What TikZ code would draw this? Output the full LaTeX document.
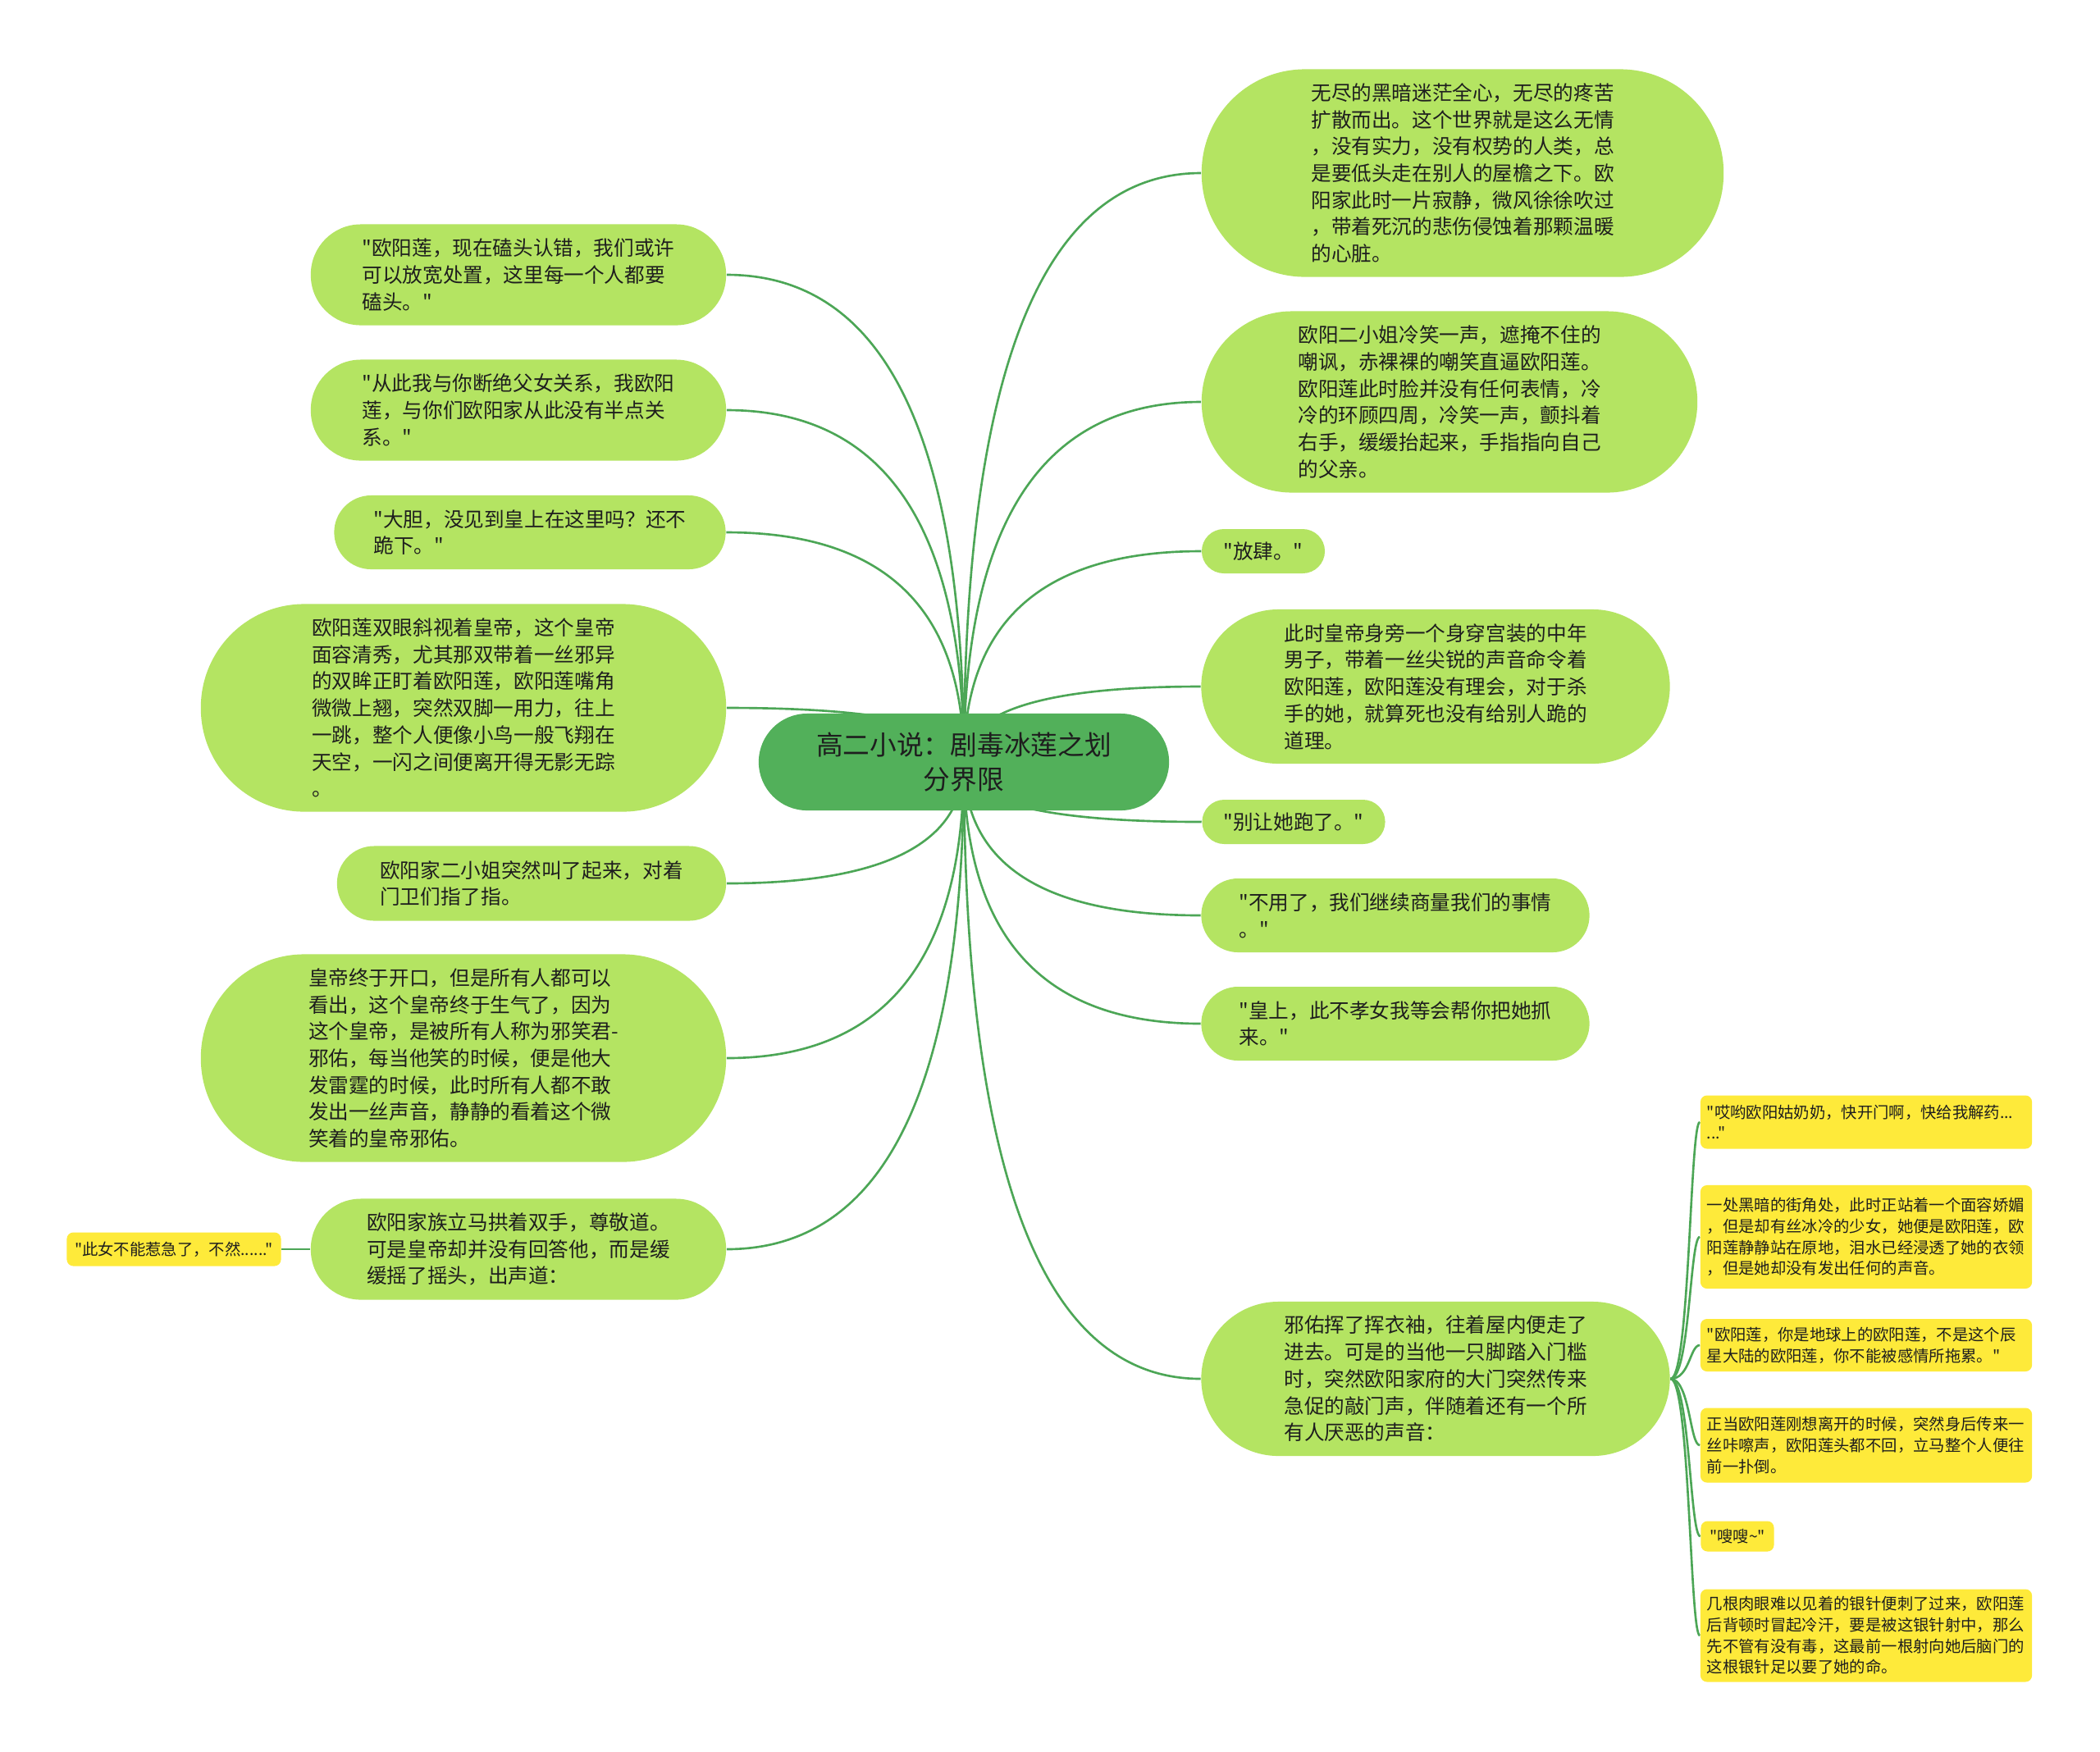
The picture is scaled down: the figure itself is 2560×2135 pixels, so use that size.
\documentclass[tikz,border=0pt]{standalone}
\usepackage{fontspec}
\newfontfamily\cjk{Noto Sans CJK SC}
\usetikzlibrary{backgrounds,calc}
\definecolor{lg}{RGB}{180,228,98}
\definecolor{rg}{RGB}{82,176,90}
\definecolor{lc}{RGB}{76,166,86}
\definecolor{yl}{RGB}{254,234,58}
\definecolor{txt}{RGB}{30,30,30}
\newcommand\qlink[2]{\draw[link] (#1) .. controls ($(#1)!0.667!(#1 |- #2)$) and ($(#2)!0.667!(#1 |- #2)$) .. (#2);}
\newcommand\ylink[2]{\draw[link] (#1) .. controls (#1 -| trunk) and (#2 -| trunk) .. (#2);}
\begin{document}
\begin{tikzpicture}[x=0.01cm,y=-0.01cm,
  gn/.style={fill=lg, draw=none, align=left, inner sep=0pt, text=txt, font=\cjk\fontsize{7pt}{9.3pt}\selectfont},
  rootn/.style={fill=rg, draw=none, align=center, inner sep=0pt, text=txt, font=\cjk\fontsize{9.3pt}{12pt}\selectfont},
  yn/.style={fill=yl, draw=none, align=left, inner ysep=0pt, inner xsep=0.08cm, rounded corners=0.08cm, text=txt, text width=3.88cm, minimum width=4.04cm, font=\cjk\fontsize{5.5pt}{7.3pt}\selectfont},
  ysmall/.style={fill=yl, draw=none, align=left, inner ysep=0pt, inner xsep=0.08cm, rounded corners=0.08cm, text=txt, font=\cjk\fontsize{5.5pt}{7.3pt}\selectfont},
  link/.style={draw=lc, line width=0.75pt}]
\useasboundingbox (0,0) rectangle (2560,2135);

\node[rootn, minimum width=5.0cm, minimum height=1.18cm, rounded corners=0.59cm] (root) at (1175,929) {高二小说：剧毒冰莲之划\\分界限};

% right side
\node[gn, minimum width=6.36cm, minimum height=2.53cm, rounded corners=1.26cm] (R1) at (1783,211) {无尽的黑暗迷茫全心，无尽的疼苦\\扩散而出。这个世界就是这么无情\\，没有实力，没有权势的人类，总\\是要低头走在别人的屋檐之下。欧\\阳家此时一片寂静，微风徐徐吹过\\，带着死沉的悲伤侵蚀着那颗温暖\\的心脏。};
\node[gn, minimum width=6.04cm, minimum height=2.21cm, rounded corners=1.1cm] (R2) at (1767,490) {欧阳二小姐冷笑一声，遮掩不住的\\嘲讽，赤裸裸的嘲笑直逼欧阳莲。\\欧阳莲此时脸并没有任何表情，冷\\冷的环顾四周，冷笑一声，颤抖着\\右手，缓缓抬起来，手指指向自己\\的父亲。};
\node[gn, minimum width=1.5cm, minimum height=0.54cm, rounded corners=0.27cm] (R3) at (1540,672) {"放肆。"};
\node[gn, minimum width=5.71cm, minimum height=1.88cm, rounded corners=0.94cm] (R4) at (1750,837) {此时皇帝身旁一个身穿宫装的中年\\男子，带着一丝尖锐的声音命令着\\欧阳莲，欧阳莲没有理会，对于杀\\手的她，就算死也没有给别人跪的\\道理。};
\node[gn, minimum width=2.23cm, minimum height=0.54cm, rounded corners=0.27cm] (R5) at (1577,1002) {"别让她跑了。"};
\node[gn, minimum width=4.73cm, minimum height=0.9cm, rounded corners=0.45cm] (R6) at (1701,1116) {"不用了，我们继续商量我们的事情\\。"};
\node[gn, minimum width=4.73cm, minimum height=0.9cm, rounded corners=0.45cm] (R7) at (1701,1248) {"皇上，此不孝女我等会帮你把她抓\\来。"};
\node[gn, minimum width=5.71cm, minimum height=1.88cm, rounded corners=0.94cm] (R8) at (1750,1681) {邪佑挥了挥衣袖，往着屋内便走了\\进去。可是的当他一只脚踏入门槛\\时，突然欧阳家府的大门突然传来\\急促的敲门声，伴随着还有一个所\\有人厌恶的声音：};
\coordinate (trunk) at (2060,1681);

% yellow children of R8
\node[yn, minimum height=0.65cm] (Y1) at (2275,1368) {"哎哟欧阳姑奶奶，快开门啊，快给我解药...\\..."};
\node[yn, minimum height=1.26cm] (Y2) at (2275,1508) {一处黑暗的街角处，此时正站着一个面容娇媚\\，但是却有丝冰冷的少女，她便是欧阳莲，欧\\阳莲静静站在原地，泪水已经浸透了她的衣领\\，但是她却没有发出任何的声音。};
\node[yn, minimum height=0.64cm] (Y3) at (2275,1640) {"欧阳莲，你是地球上的欧阳莲，不是这个辰\\星大陆的欧阳莲，你不能被感情所拖累。"};
\node[yn, minimum height=0.91cm] (Y4) at (2275,1762) {正当欧阳莲刚想离开的时候，突然身后传来一\\丝咔嚓声，欧阳莲头都不回，立马整个人便往\\前一扑倒。};
\node[ysmall, minimum width=0.89cm, minimum height=0.37cm] (Y5) at (2118,1873) {"嗖嗖\textasciitilde"};
\node[yn, minimum height=1.13cm] (Y6) at (2275,1994) {几根肉眼难以见着的银针便刺了过来，欧阳莲\\后背顿时冒起冷汗，要是被这银针射中，那么\\先不管有没有毒，这最前一根射向她后脑门的\\这根银针足以要了她的命。};

% left side
\node[gn, minimum width=5.06cm, minimum height=1.23cm, rounded corners=0.61cm] (L1) at (632,335) {"欧阳莲，现在磕头认错，我们或许\\可以放宽处置，这里每一个人都要\\磕头。"};
\node[gn, minimum width=5.06cm, minimum height=1.23cm, rounded corners=0.61cm] (L2) at (632,500) {"从此我与你断绝父女关系，我欧阳\\莲，与你们欧阳家从此没有半点关\\系。"};
\node[gn, minimum width=4.77cm, minimum height=0.9cm, rounded corners=0.45cm] (L3) at (646,649) {"大胆，没见到皇上在这里吗？还不\\跪下。"};
\node[gn, minimum width=6.4cm, minimum height=2.53cm, rounded corners=1.26cm] (L4) at (565,863) {欧阳莲双眼斜视着皇帝，这个皇帝\\面容清秀，尤其那双带着一丝邪异\\的双眸正盯着欧阳莲，欧阳莲嘴角\\微微上翘，突然双脚一用力，往上\\一跳，整个人便像小鸟一般飞翔在\\天空，一闪之间便离开得无影无踪\\。};
\node[gn, minimum width=4.74cm, minimum height=0.91cm, rounded corners=0.45cm] (L5) at (648,1077) {欧阳家二小姐突然叫了起来，对着\\门卫们指了指。};
\node[gn, minimum width=6.4cm, minimum height=2.53cm, rounded corners=1.26cm] (L6) at (565,1290) {皇帝终于开口，但是所有人都可以\\看出，这个皇帝终于生气了，因为\\这个皇帝，是被所有人称为邪笑君-\\邪佑，每当他笑的时候，便是他大\\发雷霆的时候，此时所有人都不敢\\发出一丝声音，静静的看着这个微\\笑着的皇帝邪佑。};
\node[gn, minimum width=5.06cm, minimum height=1.23cm, rounded corners=0.61cm] (L7) at (632,1523) {欧阳家族立马拱着双手，尊敬道。\\可是皇帝却并没有回答他，而是缓\\缓摇了摇头，出声道：};
\node[ysmall, minimum width=2.61cm, minimum height=0.41cm] (Y0) at (212,1523) {"此女不能惹急了，不然......"};

\begin{pgfonlayer}{background}
\fill[white] (0,0) rectangle (2560,2135);
\foreach \n in {R1,R2,R3,R4,R5,R6,R7,R8}{\qlink{root.center}{\n.west}}
\foreach \n in {L1,L2,L3,L4,L5,L6,L7}{\qlink{root.center}{\n.east}}
\foreach \n in {Y1,Y2,Y3,Y4,Y5,Y6}{\ylink{R8.east}{\n.west}}
\draw[link] (L7.west) -- (Y0.east);
\end{pgfonlayer}
\end{tikzpicture}
\end{document}
